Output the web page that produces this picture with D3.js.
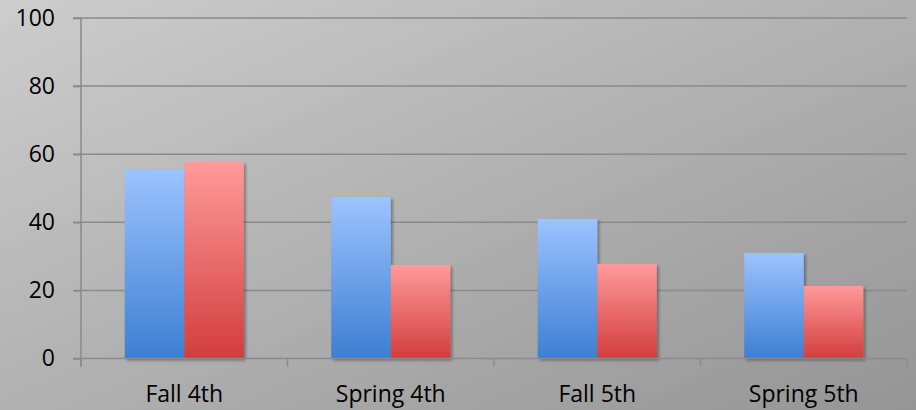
<!DOCTYPE html>
<html>
<head>
<meta charset="utf-8">
<script src="https://cdn.jsdelivr.net/npm/d3@7"></script>
<style>
  html, body { margin: 0; padding: 0; background: #b0b0b0; }
  svg { display: block; }
  text { font-family: "Open Sans", "Noto Sans", sans-serif; fill: #000; }
</style>
</head>
<body>
<svg id="chart" width="916" height="410"></svg>
<script>
// Term categories and the two series shown for each
const categories = ["Fall 4th", "Spring 4th", "Fall 5th", "Spring 5th"];
const seriesBlue = [55.6, 47.4, 41.0, 31.0];
const seriesRed  = [57.7, 27.5, 27.8, 21.3];
const yTicks = [0, 20, 40, 60, 80, 100];

const W = 916, H = 410;
const margin = { left: 81, right: 9, top: 18, bottom: 51.5 };
const svg = d3.select("#chart");
const defs = svg.append("defs");

// Backdrop: diagonal grey gradient
const bg = defs.append("linearGradient").attr("id", "bg")
  .attr("x1", "0").attr("y1", "0").attr("x2", "1").attr("y2", "1");
bg.append("stop").attr("offset", "0").attr("stop-color", "#cdcdcd");
bg.append("stop").attr("offset", "1").attr("stop-color", "#959595");
svg.append("rect").attr("width", W).attr("height", H).attr("fill", "url(#bg)");

// Per-bar vertical gradients
function barGradient(id, top, bottom) {
  const g = defs.append("linearGradient").attr("id", id)
    .attr("x1", "0").attr("y1", "0").attr("x2", "0").attr("y2", "1");
  g.append("stop").attr("offset", "0").attr("stop-color", top);
  g.append("stop").attr("offset", "1").attr("stop-color", bottom);
}
barGradient("gBlue", "#9cc3ff", "#3d7fd2");
barGradient("gRed", "#ff9a9a", "#d33d3d");

const shadow = defs.append("filter").attr("id", "shadow")
  .attr("x", "-20%").attr("y", "-20%").attr("width", "140%").attr("height", "140%");
shadow.append("feDropShadow").attr("dx", 2).attr("dy", 2)
  .attr("stdDeviation", 1.6).attr("flood-color", "#000").attr("flood-opacity", 0.35);

const x0 = d3.scaleBand().domain(categories)
  .range([margin.left, W - margin.right]).paddingInner(0.4236).paddingOuter(0.2118);
const x1 = d3.scaleBand().domain(["blue", "red"]).range([0, x0.bandwidth()]);
const y = d3.scaleLinear().domain([0, 100]).range([H - margin.bottom, margin.top]);

const gridColor = "#8a8a8a";
const fontSize = 23;

// Horizontal gridlines
svg.append("g").selectAll("line").data(yTicks.filter(d => d > 0)).join("line")
  .attr("x1", margin.left - 8).attr("x2", W - margin.right)
  .attr("y1", d => y(d)).attr("y2", d => y(d))
  .attr("stroke", gridColor).attr("stroke-width", 1.5);

// Bars
const groups = svg.append("g").selectAll("g").data(categories).join("g")
  .attr("transform", d => `translate(${x0(d)},0)`);
groups.append("rect")
  .attr("x", x1("blue")).attr("width", x1.bandwidth())
  .attr("y", (d, i) => y(seriesBlue[i]))
  .attr("height", (d, i) => y(0) - y(seriesBlue[i]))
  .attr("fill", "url(#gBlue)").attr("filter", "url(#shadow)");
groups.append("rect")
  .attr("x", x1("red")).attr("width", x1.bandwidth())
  .attr("y", (d, i) => y(seriesRed[i]))
  .attr("height", (d, i) => y(0) - y(seriesRed[i]))
  .attr("fill", "url(#gRed)").attr("filter", "url(#shadow)");

// Y axis
const yAxis = d3.axisLeft(y).tickValues(yTicks).tickSize(8).tickPadding(18);
const gy = svg.append("g").attr("transform", `translate(${margin.left},0)`).call(yAxis);
gy.select(".domain").attr("stroke", gridColor).attr("stroke-width", 1.5)
  .attr("d", `M0,${y(100)}V${y(0) + 8}`);
gy.selectAll(".tick line").attr("stroke", gridColor).attr("stroke-width", 1.5);
gy.selectAll(".tick text").attr("font-size", fontSize).attr("fill", "#000")
  .attr("font-family", "Open Sans, Noto Sans, sans-serif");

// X axis with boundary ticks between categories
const gx = svg.append("g");
gx.append("line").attr("x1", margin.left - 8).attr("x2", W - margin.right)
  .attr("y1", y(0)).attr("y2", y(0)).attr("stroke", gridColor).attr("stroke-width", 1.5);
const edges = [margin.left]
  .concat(categories.slice(1).map(c => x0(c) - x0.step() * x0.paddingInner() / 2), [W - margin.right]);
gx.selectAll("line.tk").data(edges).join("line").attr("class", "tk")
  .attr("x1", d => d).attr("x2", d => d)
  .attr("y1", y(0)).attr("y2", y(0) + 8)
  .attr("stroke", gridColor).attr("stroke-width", 1.5);
gx.selectAll("text").data(categories).join("text")
  .attr("x", d => x0(d) + x0.bandwidth() / 2).attr("y", 402)
  .attr("text-anchor", "middle").attr("font-size", fontSize).text(d => d);
</script>
</body>
</html>
